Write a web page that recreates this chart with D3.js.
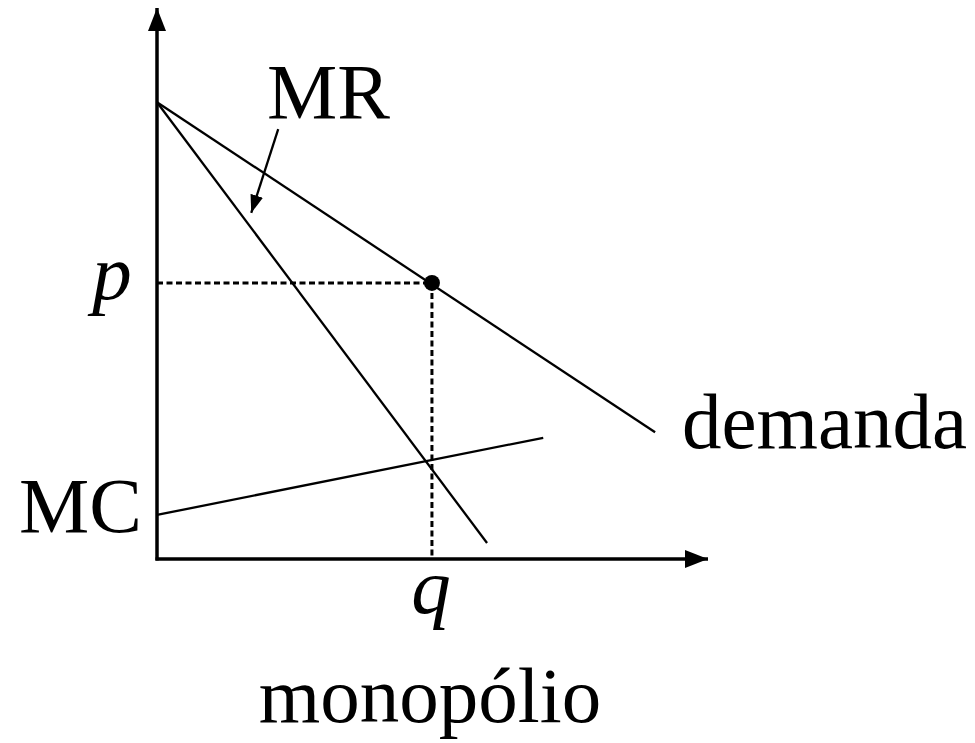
<!DOCTYPE html>
<html>
<head>
<meta charset="utf-8">
<script src="https://cdn.jsdelivr.net/npm/d3@7"></script>
<style>
  body { margin: 0; background: #fff; }
  text { font-family: "Liberation Serif", "Times New Roman", serif; fill: #000; }
</style>
</head>
<body>
<svg width="975" height="743"></svg>
<script>
// curves, in chart units (quantity, price)
var demand = [{q: 0, p: 82.9}, {q: 90.4, p: 23.0}];
var mr = [{q: 0, p: 82.9}, {q: 59.9, p: 2.9}];
var mc = [{q: 0, p: 8.0}, {q: 70.1, p: 22.0}];
var monopoly = [{q: 49.9, p: 50.1}];
var mrPointer = [{q: 22.0, p: 78.0}, {q: 17.1, p: 62.8}];
var axisMax = {q: 100, p: 100};

var svg = d3.select("svg");

var x = d3.scaleLinear().domain([0, 100]).range([157, 708]);
var y = d3.scaleLinear().domain([0, 100]).range([559, 8]);

var line = d3.line()
    .x(function(d) { return x(d.q); })
    .y(function(d) { return y(d.p); });

// arrow heads
var defs = svg.append("defs");
defs.append("marker")
    .attr("id", "axisHead")
    .attr("viewBox", "0 0 23 18")
    .attr("refX", 23).attr("refY", 9)
    .attr("markerWidth", 23).attr("markerHeight", 18)
    .attr("markerUnits", "userSpaceOnUse")
    .attr("orient", "auto")
  .append("path").attr("d", "M0,0 L23,9 L0,18 Z").attr("fill", "#000");
defs.append("marker")
    .attr("id", "smallHead")
    .attr("viewBox", "0 0 18 13")
    .attr("refX", 18).attr("refY", 6.5)
    .attr("markerWidth", 18).attr("markerHeight", 13)
    .attr("markerUnits", "userSpaceOnUse")
    .attr("orient", "auto")
  .append("path").attr("d", "M0,0 L18,6.5 L0,13 Z").attr("fill", "#000");

// axes
svg.append("line")
    .attr("x1", x(0)).attr("y1", y(0) + 1.5)
    .attr("x2", x(0)).attr("y2", y(axisMax.p))
    .attr("stroke", "#000").attr("stroke-width", 3.5)
    .attr("marker-end", "url(#axisHead)");
svg.append("line")
    .attr("x1", x(0) - 1.5).attr("y1", y(0))
    .attr("x2", x(axisMax.q)).attr("y2", y(0))
    .attr("stroke", "#000").attr("stroke-width", 3.5)
    .attr("marker-end", "url(#axisHead)");

// dashed guides to the monopoly point
var m = monopoly[0];
svg.append("path")
    .attr("d", line([{q: 0, p: m.p}, m, {q: m.q, p: 0}]))
    .attr("fill", "none").attr("stroke", "#000")
    .attr("stroke-width", 3).attr("stroke-dasharray", "6,3.5");

// curves
[demand, mr, mc].forEach(function(c) {
  svg.append("path")
      .attr("d", line(c))
      .attr("fill", "none").attr("stroke", "#000").attr("stroke-width", 2.3);
});

svg.selectAll(".dot")
    .data(monopoly)
  .enter().append("circle")
    .attr("class", "dot")
    .attr("cx", function(d) { return x(d.q); })
    .attr("cy", function(d) { return y(d.p); })
    .attr("r", 8);

// pointer from the MR label
svg.append("path")
    .attr("d", line(mrPointer))
    .attr("fill", "none").attr("stroke", "#000").attr("stroke-width", 2.3)
    .attr("marker-end", "url(#smallHead)");

// labels
var fs = 79;
svg.append("text").attr("x", 267).attr("y", 118).attr("font-size", fs).text("MR");
svg.append("text").attr("x", 19).attr("y", 532).attr("font-size", fs).text("MC");
svg.append("text").attr("x", 682).attr("y", 448).attr("font-size", fs).text("demanda");
svg.append("text").attr("x", 112).attr("y", y(m.p) + 16)
    .attr("text-anchor", "middle").attr("font-style", "italic")
    .attr("font-size", fs).text("p");
svg.append("text").attr("x", x(m.q) - 1).attr("y", 613)
    .attr("text-anchor", "middle").attr("font-style", "italic")
    .attr("font-size", fs).text("q");
svg.append("text").attr("x", 430).attr("y", 722)
    .attr("text-anchor", "middle").attr("font-size", fs).text("monopólio");
</script>
</body>
</html>
